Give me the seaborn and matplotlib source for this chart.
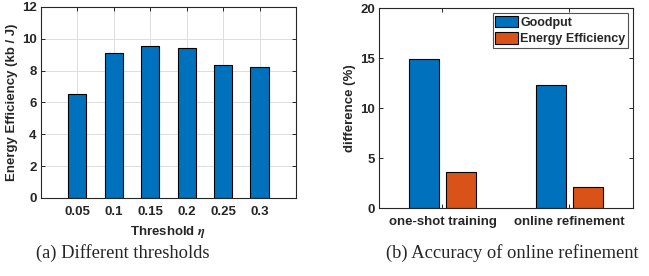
import pandas as pd
import numpy as np
import matplotlib
matplotlib.use("Agg")
import matplotlib.pyplot as plt
import seaborn as sns

# -----------------------------
# data
# -----------------------------
thresholds = ["0.05", "0.1", "0.15", "0.2", "0.25", "0.3"]
energy_eff = [6.5, 9.1, 9.55, 9.4, 8.35, 8.2]

methods = ["one-shot training", "online refinement"]
goodput_diff = [14.9, 12.3]
ee_diff = [3.65, 2.1]
series = ["Goodput", "Energy Efficiency"]

blue = "#0072BD"
orange = "#D95319"

sns.set_theme(style="white")
plt.rcParams["font.family"] = ["Liberation Sans", "DejaVu Sans"]
plt.rcParams["font.weight"] = "bold"
plt.rcParams["axes.labelweight"] = "bold"
plt.rcParams["mathtext.fontset"] = "stix"

fig = plt.figure(figsize=(6.49, 2.76), dpi=100)

# -----------------------------
# (a) thresholds
# -----------------------------
ax1 = fig.add_axes([0.063, 0.283, 0.393, 0.692])
df1 = pd.DataFrame({"thr": thresholds, "ee": energy_eff})
sns.barplot(data=df1, x="thr", y="ee", color=blue, saturation=1, width=0.5,
            edgecolor="black", linewidth=0.8, ax=ax1)
ax1.set_xlim(-1, 6)
ax1.set_ylim(0, 12)
ax1.set_yticks(range(0, 13, 2))
ax1.set_xlabel(r"Threshold $\eta$", fontsize=9.5, labelpad=4)
ax1.set_ylabel("Energy Efficiency (kb / J)", fontsize=9.5, labelpad=3)
ax1.grid(True, color="#dddddd", linewidth=0.7)
ax1.set_axisbelow(True)

# -----------------------------
# (b) accuracy of online refinement
# -----------------------------
ax2 = fig.add_axes([0.584, 0.246, 0.391, 0.725])
df2 = pd.DataFrame({
    "method": methods * 2,
    "series": [series[0]] * 2 + [series[1]] * 2,
    "diff": goodput_diff + ee_diff,
})
sns.barplot(data=df2, x="method", y="diff", hue="series",
            palette=[blue, orange], saturation=1, width=0.584, gap=0.19,
            edgecolor="black", linewidth=0.8, ax=ax2)
ax2.set_xlim(-0.5, 1.5)
ax2.set_ylim(0, 20)
ax2.set_yticks(range(0, 21, 5))
ax2.set_xlabel("")
ax2.set_ylabel("difference (%)", fontsize=9.5, labelpad=3)
leg = ax2.legend(loc="upper right", fontsize=9, frameon=True, fancybox=False,
                 edgecolor="#262626", handlelength=1.85, handleheight=1.05,
                 handletextpad=0.15, borderpad=0.2, labelspacing=0.3,
                 borderaxespad=0.4)
leg.get_frame().set_linewidth(0.8)
for t in leg.get_texts():
    t.set_fontweight("bold")

for ax in (ax1, ax2):
    for s in ax.spines.values():
        s.set_color("#262626")
        s.set_linewidth(0.8)
    ax.tick_params(direction="in", length=3, width=0.7, top=True, right=True,
                   bottom=True, left=True, labelsize=9.5, colors="#262626", pad=3)
    ax.tick_params(axis="x", pad=6)
    for lab in ax.get_xticklabels() + ax.get_yticklabels():
        lab.set_fontweight("bold")

# -----------------------------
# captions
# -----------------------------
cap = dict(fontsize=13.3, family=["Liberation Serif", "DejaVu Serif"],
           fontweight="normal", ha="center", va="center")
fig.text(123 / 649, 1 - 253 / 276, "(a) Different thresholds", **cap)
fig.text(512 / 649, 1 - 253 / 276, "(b) Accuracy of online refinement", **cap)

plt.savefig("out.png", dpi=100)
